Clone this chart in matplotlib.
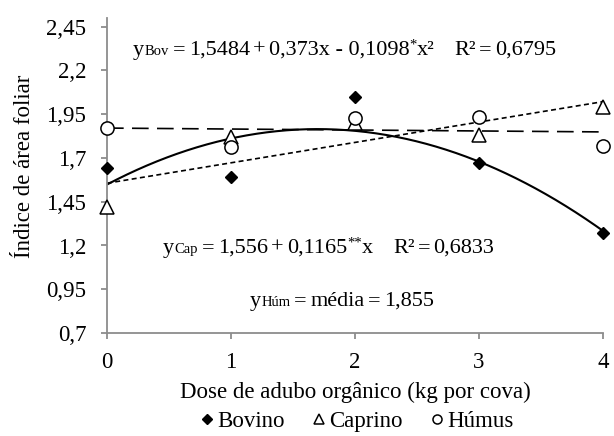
import numpy as np
import matplotlib
matplotlib.use("Agg")
import matplotlib.pyplot as plt
from matplotlib.lines import Line2D
from matplotlib.transforms import IdentityTransform

plt.rcParams['font.family'] = ['Liberation Serif', 'DejaVu Serif']

# ---- data ----
doses = [0, 1, 2, 3, 4]
bovino = [1.64, 1.59, 2.05, 1.67, 1.27]
caprino = [1.42, 1.82, 1.90, 1.83, 1.99]
humus = [1.87, 1.76, 1.93, 1.935, 1.77]
bov_coef = [1.5484, 0.373, -0.1098]     # quadratic fit
cap_coef = [1.556, 0.1165]              # linear fit
hum_trend = [1.871, -0.0055]            # trendline drawn
yticks = [0.7, 0.95, 1.2, 1.45, 1.7, 1.95, 2.2, 2.45]
ytick_labels = ['0,7', '0,95', '1,2', '1,45', '1,7', '1,95', '2,2', '2,45']
xticks = [0, 1, 2, 3, 4]

W, H = 614, 436
fig = plt.figure(figsize=(W / 100, H / 100), dpi=100)
ax = fig.add_axes([107 / W, 1 - 333 / H, (603 - 107) / W, (333 - 18) / H])

xs = np.linspace(0, 4, 200)
ax.plot(xs, bov_coef[0] + bov_coef[1] * xs + bov_coef[2] * xs ** 2,
        color='black', lw=1.5, solid_capstyle='butt', zorder=2)
ax.plot(xs, cap_coef[0] + cap_coef[1] * xs, color='black', lw=1.2,
        dashes=(3, 2), zorder=2)
ax.plot(xs, hum_trend[0] + hum_trend[1] * xs, color='black', lw=1.2,
        dashes=(10, 5), zorder=2)

ax.plot(doses, bovino, 'D', ms=6.2, color='black', zorder=3, clip_on=False)
ax.plot(doses, caprino, '^', ms=9.5, mfc='white', mec='black', mew=1.1,
        zorder=3, clip_on=False)
ax.plot(doses, humus, 'o', ms=9.5, mfc='white', mec='black', mew=1.1,
        zorder=3, clip_on=False)

ax.set_xlim(0, 4)
ax.set_ylim(0.7, 2.5)
ax.set_yticks(yticks)
ax.set_yticklabels(ytick_labels)
ax.set_xticks(xticks)
for s in ['top', 'right']:
    ax.spines[s].set_visible(False)
for s in ['left', 'bottom']:
    ax.spines[s].set_color('#8c8c8c')
    ax.spines[s].set_linewidth(1.3)
ax.tick_params(axis='both', direction='out', length=4, width=1.3,
               color='#8c8c8c', labelsize=16.5)
ax.tick_params(axis='y', pad=11)
ax.tick_params(axis='x', pad=10)
ax.set_xlabel('Dose de adubo orgânico (kg por cova)', fontsize=16.5)
ax.set_ylabel('Índice de área foliar', fontsize=16.5)
ax.xaxis.set_label_coords(0.5, (333 - 382) / 315)
ax.yaxis.set_label_coords((35 - 107) / 496, (333 - 166) / 315)

fig.canvas.draw()
renderer = fig.canvas.get_renderer()


def rich(x0, base_from_top, pieces):
    x = x0
    yb = H - base_from_top
    for txt, size, dy, gap in pieces:
        t = fig.text(x, yb + dy, txt, fontsize=size, transform=IdentityTransform(),
                     va='baseline', ha='left')
        w = t.get_window_extent(renderer).width
        x += w + gap


big, small = 16, 10.5
rich(133, 55, [('y', big, 0, 0), ('Bov', small, 0, 4),
               ('=', big, 0, 4), ('1,5484', big, 0, 3), ('+', big, 0, 3),
               ('0,373x - 0,1098', big, 0, 0), ('*', small, 6, 0),
               ('x²', big, 0, 20), ('R²', big, 0, 3), ('=', big, 0, 3),
               ('0,6795', big, 0, 0)])
rich(163, 253, [('y', big, 0, 0), ('Cap', small, 0, 4),
                ('=', big, 0, 4), ('1,556', big, 0, 3), ('+', big, 0, 3),
                ('0,1165', big, 0, 0), ('**', small, 6, 0),
                ('x', big, 0, 20), ('R²', big, 0, 3), ('=', big, 0, 3),
                ('0,6833', big, 0, 0)])
rich(250, 306, [('y', big, 0, 0), ('Húm', small, 0, 4),
                ('=', big, 0, 4), ('média', big, 0, 3), ('=', big, 0, 3),
                ('1,855', big, 0, 0)])

handles = [
    Line2D([], [], ls='none', marker='D', ms=5, color='black'),
    Line2D([], [], ls='none', marker='^', ms=7.5, mfc='white', mec='black', mew=1.1),
    Line2D([], [], ls='none', marker='o', ms=6.5, mfc='white', mec='black', mew=1.1),
]
fig.legend(handles, ['Bovino', 'Caprino', 'Húmus'], loc='center',
           bbox_to_anchor=(357 / W, 1 - 421 / H), ncol=3, frameon=False,
           fontsize=16.5, handlelength=0.6, handletextpad=0.15, columnspacing=1.2,
           borderpad=0)

fig.savefig('out.png', dpi=100)
